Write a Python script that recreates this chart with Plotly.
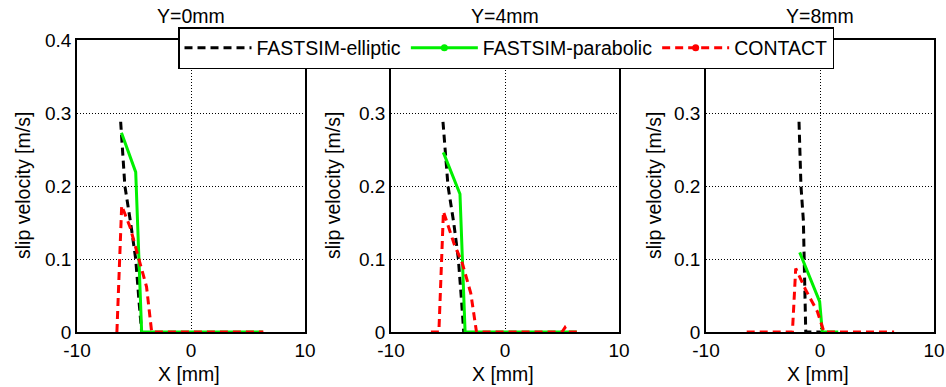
import plotly.graph_objects as go

# ---------------- data ----------------
panel_titles = ["Y=0mm", "Y=4mm", "Y=8mm"]

# Y = 0 mm
ell_x_0 = [-6.17, -5.8, -5.3, -4.85, -4.55, -4.33]
ell_y_0 = [0.288, 0.20, 0.15, 0.10, 0.04, 0.0]
par_x_0 = [-6.1, -4.85, -4.33, 6.3]
par_y_0 = [0.273, 0.219, 0.0, 0.0]
con_x_0 = [-6.5, -6.08, -5.35, -4.56, -4.18, -3.9, -3.45, 6.35]
con_y_0 = [0.0, 0.173, 0.144, 0.100, 0.076, 0.062, 0.0, 0.0]

# Y = 4 mm
ell_x_4 = [-5.44, -5.0, -4.5, -4.09, -3.8, -3.62]
ell_y_4 = [0.288, 0.20, 0.15, 0.10, 0.04, 0.0]
par_x_4 = [-5.41, -4.47, -3.95, -3.5, 6.3]
par_y_4 = [0.246, 0.210, 0.189, 0.0, 0.0]
con_x_4 = [-6.5, -5.8, -5.4, -4.47, -3.74, -3.0, -2.5, 5.0, 5.26, 5.5, 6.35]
con_y_4 = [0.0, 0.0, 0.165, 0.121, 0.094, 0.053, 0.0, 0.0, 0.006, 0.0, 0.0]

# Y = 8 mm
ell_x_8 = [-1.84, -1.67, -1.46, -1.35, -1.25, 0.05]
ell_y_8 = [0.288, 0.20, 0.153, 0.08, 0.0, 0.0]
par_x_8 = [-1.78, -0.03, 0.2, 1.6]
par_y_8 = [0.109, 0.0415, 0.0, 0.0]
con_x_8 = [-6.43, -2.42, -2.13, -1.25, -0.23, 0.35, 6.5]
con_y_8 = [0.0, 0.0, 0.087, 0.0575, 0.028, 0.0, 0.0]

series_names = ["FASTSIM-elliptic", "FASTSIM-parabolic", "CONTACT"]
x_tickvals = [-10, 0, 10]
x_ticktext = ["-10", "0", "10"]
y_tickvals = [0, 0.1, 0.2, 0.3, 0.4]
y_ticktext = ["0", "0.1", "0.2", "0.3", "0.4"]

panels = [
    (ell_x_0, ell_y_0, par_x_0, par_y_0, con_x_0, con_y_0),
    (ell_x_4, ell_y_4, par_x_4, par_y_4, con_x_4, con_y_4),
    (ell_x_8, ell_y_8, par_x_8, par_y_8, con_x_8, con_y_8),
]

# ---------------- layout constants ----------------
W, H = 946, 387
FONT = "Arial, 'Liberation Sans', sans-serif"
BLACK = "#000000"
GREEN = "#00f000"
RED = "#ff0000"
DASH = "8px,5px"
FS = 19.5

x_px = [(77, 305), (391, 619), (706, 934)]
y_px = (40, 332)  # top, bottom
ylab_x = [23, 333, 654]

fig = go.Figure()

for i, (ex, ey, px_, py_, cx, cy) in enumerate(panels):
    xa = "x" if i == 0 else f"x{i+1}"
    ya = "y" if i == 0 else f"y{i+1}"
    fig.add_trace(go.Scatter(x=ex, y=ey, mode="lines", xaxis=xa, yaxis=ya,
                             line=dict(color=BLACK, width=3, dash=DASH),
                             showlegend=False, cliponaxis=False))
    fig.add_trace(go.Scatter(x=px_, y=py_, mode="lines", xaxis=xa, yaxis=ya,
                             line=dict(color=GREEN, width=3),
                             showlegend=False, cliponaxis=False))
    fig.add_trace(go.Scatter(x=cx, y=cy, mode="lines", xaxis=xa, yaxis=ya,
                             line=dict(color=RED, width=3, dash=DASH),
                             showlegend=False, cliponaxis=False))

# legend-only entries
fig.add_trace(go.Scatter(x=[None], y=[None], mode="lines", name=series_names[0],
                         line=dict(color=BLACK, width=3, dash=DASH)))
fig.add_trace(go.Scatter(x=[None], y=[None], mode="lines+markers", name=series_names[1],
                         line=dict(color=GREEN, width=3), marker=dict(size=7, color=GREEN)))
fig.add_trace(go.Scatter(x=[None], y=[None], mode="lines+markers", name=series_names[2],
                         line=dict(color=RED, width=3, dash=DASH), marker=dict(size=7, color=RED)))

layout = dict(
    width=W, height=H,
    margin=dict(l=0, r=0, t=0, b=0, autoexpand=False),
    paper_bgcolor="white", plot_bgcolor="white",
    font=dict(family=FONT, size=FS, color="black"),
    legend=dict(orientation="h", x=178 / W, y=1 - 27 / H, xanchor="left", yanchor="top",
                bgcolor="white", bordercolor="black", borderwidth=1.5,
                font=dict(size=FS), itemwidth=67),
)

annotations = []
for i in range(3):
    k = "" if i == 0 else str(i + 1)
    x0, x1 = x_px[i]
    layout["xaxis" + k] = dict(
        domain=[x0 / W, x1 / W], range=[-10, 10], anchor="y" + k,
        tickvals=x_tickvals, ticktext=x_ticktext, automargin=False,
        showline=True, linecolor="black", linewidth=1.5, mirror=True,
        showgrid=True, gridcolor="black", gridwidth=1, griddash="1px,2px",
        zeroline=False, ticks="", layer="below traces",
        tickfont=dict(size=19),
    )
    layout["yaxis" + k] = dict(
        domain=[(H - y_px[1]) / H, (H - y_px[0]) / H], range=[0, 0.4], anchor="x" + k,
        tickvals=y_tickvals, ticktext=y_ticktext, automargin=False,
        showline=True, linecolor="black", linewidth=1.5, mirror=True,
        showgrid=True, gridcolor="black", gridwidth=1, griddash="1px,2px",
        zeroline=False, ticks="", layer="below traces",
        tickfont=dict(size=19),
    )
    cx_px = (x0 + x1) / 2
    annotations.append(dict(text=panel_titles[i], x=cx_px / W, y=1 - 16 / H,
                            xref="paper", yref="paper", showarrow=False,
                            xanchor="center", yanchor="middle", font=dict(size=FS)))
    annotations.append(dict(text="X [mm]", x=(cx_px - 2) / W, y=1 - 374 / H,
                            xref="paper", yref="paper", showarrow=False,
                            xanchor="center", yanchor="middle", font=dict(size=FS)))
    annotations.append(dict(text="slip velocity [m/s]", x=ylab_x[i] / W, y=1 - 186 / H,
                            xref="paper", yref="paper", showarrow=False, textangle=-90,
                            xanchor="center", yanchor="middle", font=dict(size=FS)))

layout["annotations"] = annotations
fig.update_layout(**layout)

fig.write_html("out.html", config={"displayModeBar": False},
               post_script="document.body.style.margin='0';")
